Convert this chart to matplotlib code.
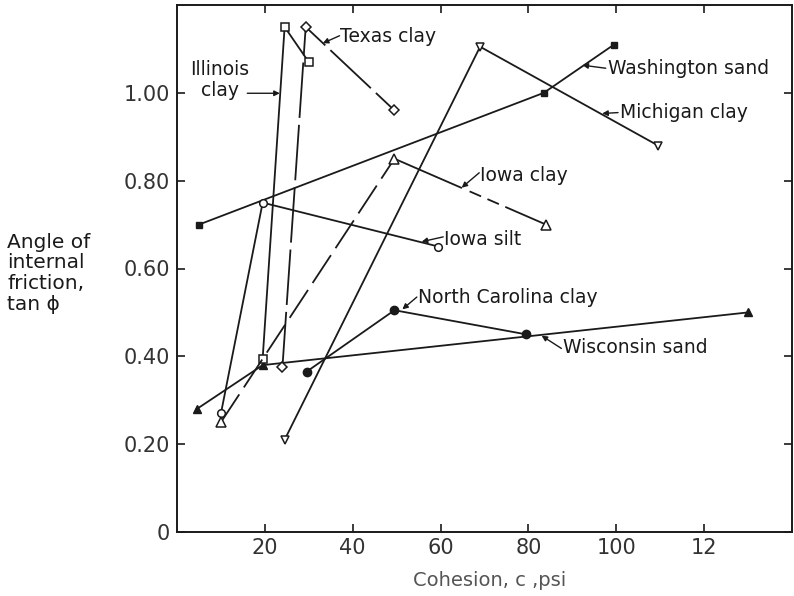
import numpy as np
import matplotlib.pyplot as plt

plt.rcParams['font.family'] = ['DejaVu Sans']
plt.rcParams['lines.scale_dashes'] = False

# cohesion c (psi) and tan(phi) for each soil
washingtonX = [5, 83.5, 99.5]
washingtonY = [0.70, 1.00, 1.11]

michiganX = [24.5, 69, 109.5]
michiganY = [0.21, 1.105, 0.88]

iowaClayX = [10, 49.5, 84]
iowaClayY = [0.25, 0.85, 0.70]

iowaSiltX = [10, 19.5, 59.5]
iowaSiltY = [0.27, 0.75, 0.65]

wisconsinX = [4.5, 19.5, 130]
wisconsinY = [0.28, 0.38, 0.50]

ncClayX = [29.5, 49.5, 79.5]
ncClayY = [0.365, 0.505, 0.45]

illinoisX = [19.5, 24.5, 30]
illinoisY = [0.395, 1.15, 1.07]

texasX = [24, 29.3, 49.5]
texasY = [0.375, 1.15, 0.96]

xTicks = [20, 40, 60, 80, 100, 120]
xTickLabels = ['20', '40', '60', '80', '100', '12']
yTicks = [0, 0.2, 0.4, 0.6, 0.8, 1.0]
yTickLabels = ['0', '0.20', '0.40', '0.60', '0.80', '1.00']

ink = '#1a1a1a'

fig = plt.figure(figsize=(7.94, 5.96), dpi=100)
ax = fig.add_axes([177/794, 1 - 532/596, (792-177)/794, (532-5)/596])

lw = 1.3
ax.plot(washingtonX, washingtonY, color=ink, lw=lw, marker='s', ms=5, mfc=ink, mec=ink)
ax.plot(michiganX, michiganY, color=ink, lw=lw, marker='v', ms=6, mfc='white', mec=ink, mew=1.1)
ax.plot(iowaSiltX, iowaSiltY, color=ink, lw=lw, marker='o', ms=5.5, mfc='white', mec=ink, mew=1.1)
ax.plot(wisconsinX, wisconsinY, color=ink, lw=lw, marker='^', ms=6, mfc=ink, mec=ink)
ax.plot(ncClayX, ncClayY, color=ink, lw=lw, marker='o', ms=6, mfc=ink, mec=ink)
ax.plot(illinoisX, illinoisY, color=ink, lw=lw, marker='s', ms=6, mfc='white', mec=ink, mew=1.1)
ax.plot(texasX, texasY, color=ink, lw=lw, ls=(0, (40, 5)), marker='D', ms=5.5, mfc='white', mec=ink, mew=1.1)

# iowa clay: dashed first leg, second leg solid then dashed
ax.plot(iowaClayX[:2], iowaClayY[:2], color=ink, lw=lw, ls=(0, (24, 6)))
ax.plot(iowaClayX[1:], iowaClayY[1:], color=ink, lw=lw, ls=(0, (53, 6, 9, 5, 9, 5, 40)))
ax.plot(iowaClayX, iowaClayY, ls='none', marker='^', ms=6.5, mfc='white', mec=ink, mew=1.1)

# labels with leader arrows: (text, text pos, arrow tail, arrow tip, alignment)
labels = [
    ('Texas clay', (37.2, 1.128), (37.0, 1.13), (33.2, 1.113), 'left'),
    ('Illinois\nclay', (9.8, 1.03), (16.0, 0.999), (23.4, 0.999), 'center'),
    ('Washington sand', (98.0, 1.056), (97.6, 1.056), (92.3, 1.063), 'left'),
    ('Michigan clay', (100.8, 0.955), (100.4, 0.955), (96.8, 0.953), 'left'),
    ('Iowa clay', (69.0, 0.812), (68.8, 0.818), (64.8, 0.784), 'left'),
    ('Iowa silt', (60.8, 0.667), (60.6, 0.672), (55.7, 0.661), 'left'),
    ('North Carolina clay', (54.8, 0.535), (54.6, 0.535), (51.3, 0.507), 'left'),
    ('Wisconsin sand', (87.8, 0.42), (87.5, 0.418), (83.0, 0.447), 'left'),
]
for txt, pos, tail, tip, ha in labels:
    ax.text(pos[0], pos[1], txt, fontsize=13.5, color=ink, ha=ha, va='center',
            linespacing=1.15)
    ax.annotate('', xy=tip, xytext=tail,
                arrowprops=dict(arrowstyle='-|>', color=ink, lw=1.0,
                                mutation_scale=8, shrinkA=0, shrinkB=0))

ax.set_xlim(0, 140)
ax.set_ylim(0, 1.2)
ax.set_xticks(xTicks)
ax.set_xticklabels(xTickLabels)
ax.set_yticks(yTicks)
ax.set_yticklabels(yTickLabels)
ax.tick_params(direction='in', length=6, width=1.2, top=True, right=True,
               labelsize=15, labelcolor='#333333', color=ink)
ax.tick_params(axis='x', pad=4)
ax.tick_params(axis='y', pad=5)
for s in ax.spines.values():
    s.set_linewidth(1.4)
    s.set_color(ink)

fig.text(490/794, 1 - 580/596, 'Cohesion, c ,psi', fontsize=14, color='#555555',
         ha='center', va='center')
fig.text(7/794, 1 - 233/596, 'Angle of\ninternal\nfriction,\ntan \u03d5', fontsize=14.5,
         color=ink, ha='left', va='top', linespacing=1.1)

fig.savefig('out.png', dpi=100)
